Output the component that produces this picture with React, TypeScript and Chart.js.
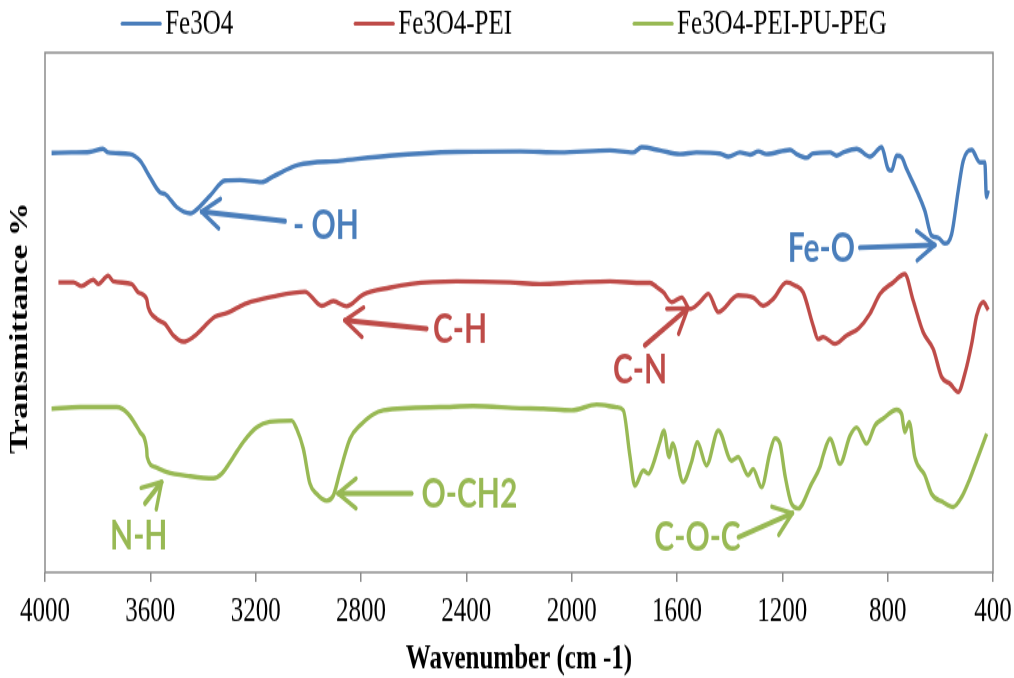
import React, { useEffect, useRef } from "react";
import { Chart, registerables } from "chart.js";

Chart.register(...registerables);

// The reference picture is vertically stretched; draw at a compressed height and stretch via CSS.
const STRETCH = 1.35;
const WIDTH = 1014;
const HEIGHT = 678;
const INNER_H = Math.round(HEIGHT / STRETCH);

const seriesLabels = ["Fe3O4", "Fe3O4-PEI", "Fe3O4-PEI-PU-PEG"];
const seriesColors = ["#4A7EBB", "#BE4B48", "#98B954"];
const yAxisTitle = "Transmittance %";
const xAxisTitle = "Wavenumber (cm -1)";

// Fe3O4
const fe3o4Wn = [3975, 3900, 3830, 3780, 3760, 3677, 3639, 3601, 3563, 3544, 3500, 3449, 3437, 3373, 3317, 3260, 3177, 3133, 3038, 2880, 2690, 2437, 2196, 2045, 1855, 1767, 1734, 1665, 1589, 1526, 1437, 1405, 1361, 1323, 1291, 1260, 1171, 1146, 1108, 1083, 1019, 994, 969, 918, 867, 823, 798, 785, 766, 747, 728, 690, 659, 633, 608, 583, 557, 532, 513, 481, 450, 431, 425, 418];
const fe3o4T = [80.7, 80.8, 80.9, 81.5, 80.8, 80.5, 79.2, 76.0, 73.1, 72.8, 70.3, 69.1, 69.3, 72.5, 75.4, 75.5, 75.1, 76.2, 78.4, 79.2, 80.2, 80.9, 81.0, 80.8, 81.2, 80.8, 81.8, 81.2, 80.5, 80.8, 80.6, 80.0, 80.8, 80.4, 81.0, 80.5, 81.3, 80.5, 79.8, 80.6, 80.8, 80.2, 80.8, 81.5, 80.0, 81.8, 77.6, 77.3, 80.2, 79.9, 77.6, 73.5, 69.6, 64.8, 64.4, 63.3, 65.1, 73.5, 79.2, 81.3, 78.9, 78.9, 72.2, 73.5];

// Fe3O4-PEI
const feo4PeiWn = [3949, 3892, 3861, 3817, 3798, 3760, 3741, 3671, 3646, 3614, 3608, 3576, 3544, 3513, 3475, 3437, 3354, 3310, 3234, 3133, 3013, 2949, 2905, 2855, 2791, 2690, 2614, 2437, 2234, 2120, 1981, 1855, 1728, 1703, 1677, 1652, 1620, 1582, 1551, 1513, 1481, 1443, 1368, 1311, 1273, 1235, 1184, 1152, 1121, 1083, 1064, 1045, 1000, 956, 911, 867, 829, 779, 735, 703, 665, 627, 595, 563, 532, 507, 481, 462, 437, 418];
const feo4PeiT = [55.8, 55.8, 55.1, 56.3, 55.5, 57.1, 56.0, 55.5, 53.9, 52.6, 51.0, 48.8, 47.8, 45.6, 44.4, 45.3, 49.2, 49.9, 51.8, 53.1, 54.0, 51.3, 52.2, 51.2, 53.5, 54.8, 55.5, 56.0, 55.8, 55.5, 55.8, 56.0, 55.7, 55.7, 54.9, 53.9, 52.0, 52.9, 50.7, 52.0, 53.6, 50.1, 53.3, 52.9, 51.3, 52.6, 55.8, 55.2, 53.9, 47.5, 44.9, 45.3, 44.0, 45.6, 46.9, 49.8, 53.6, 55.8, 57.4, 52.3, 46.2, 43.0, 37.6, 36.3, 34.7, 38.2, 44.0, 49.4, 52.0, 50.5];

// Fe3O4-PEI-PU-PEG
const pegWn = [3975, 3867, 3728, 3684, 3639, 3614, 3612, 3582, 3538, 3449, 3361, 3329, 3285, 3247, 3196, 3146, 3063, 3044, 3019, 2994, 2968, 2930, 2905, 2880, 2842, 2804, 2715, 2500, 2374, 2196, 2108, 2000, 1905, 1830, 1804, 1779, 1760, 1728, 1709, 1690, 1665, 1650, 1630, 1617, 1577, 1545, 1523, 1488, 1443, 1393, 1368, 1330, 1311, 1279, 1247, 1228, 1209, 1190, 1165, 1140, 1089, 1057, 1045, 1019, 981, 943, 918, 880, 848, 817, 766, 747, 735, 718, 697, 659, 633, 589, 551, 519, 488, 462, 424];
const pegT = [31.5, 31.8, 31.8, 30.5, 27.0, 23.8, 22.2, 20.3, 19.3, 18.5, 18.1, 19.0, 22.2, 25.1, 27.9, 29.0, 29.2, 27.6, 23.8, 17.1, 15.1, 13.8, 14.8, 19.3, 25.7, 28.3, 31.2, 31.8, 32.0, 31.6, 31.5, 31.2, 32.3, 31.8, 31.2, 22.5, 16.7, 19.6, 19.0, 20.9, 25.1, 27.3, 22.2, 24.8, 17.4, 21.2, 25.1, 20.6, 27.3, 21.5, 22.2, 18.7, 19.9, 16.4, 23.1, 25.8, 24.8, 18.7, 13.2, 12.3, 17.1, 20.3, 22.5, 25.7, 20.9, 26.3, 27.9, 24.8, 28.3, 29.6, 31.3, 30.5, 27.0, 28.9, 22.2, 18.7, 15.1, 13.5, 12.6, 14.5, 18.0, 21.5, 26.7];

const seriesWn = [fe3o4Wn, feo4PeiWn, pegWn];
const seriesT = [fe3o4T, feo4PeiT, pegT];

const xMin = 400;
const xMax = 4000;
const xStep = 400;

// Band annotations (text and arrow positions in wavenumber / transmittance units)
const annoText = ["- OH", "Fe-O", "C-H", "C-N", "N-H", "O-CH2", "C-O-C"];
const annoSeries = [0, 0, 1, 1, 2, 2, 2];
const annoTextWn = [3058, 1179, 2527, 1843, 3753, 2570, 1686];
const annoTextT = [66.8, 62.6, 47.0, 39.1, 7.1, 15.2, 6.9];
const annoTailWn = [3089, 905, 2551, 1722, 3620, 2608, 1366];
const annoTailT = [67.6, 62.5, 46.9, 43.7, 13.3, 15.2, 6.8];
const annoTipWn = [3405, 621, 2861, 1559, 3557, 2887, 1162];
const annoTipT = [69.4, 63.0, 48.5, 50.8, 17.4, 15.2, 11.4];

const SERIF = "'Liberation Serif', 'Times New Roman', serif";

const boxPlugin = {
  id: "plotBox",
  beforeDatasetsDraw(chart: any) {
    const { ctx, chartArea } = chart;
    ctx.save();
    ctx.strokeStyle = "#8C8C8C";
    ctx.lineWidth = 1.5;
    ctx.strokeRect(chartArea.left, chartArea.top, chartArea.right - chartArea.left, chartArea.bottom - chartArea.top);
    ctx.restore();
  },
};

const yTitlePlugin = {
  id: "yTitle",
  afterDraw(chart: any) {
    const { ctx, chartArea } = chart;
    ctx.save();
    ctx.translate(21, chartArea.top + (chartArea.bottom - chartArea.top) * 0.53);
    ctx.rotate(-Math.PI / 2);
    ctx.font = `bold 25px ${SERIF}`;
    ctx.fillStyle = "#000";
    ctx.textAlign = "center";
    ctx.textBaseline = "middle";
    ctx.fillText(yAxisTitle, 0, 0);
    ctx.restore();
  },
};

const legendPlugin = {
  id: "customLegend",
  afterDraw(chart: any) {
    const { ctx } = chart;
    ctx.save();
    ctx.font = `25px ${SERIF}`;
    ctx.textBaseline = "middle";
    ctx.textAlign = "left";
    const lineLen = 40;
    const gap = 4;
    const itemGap = 121;
    const y = 17.5;
    const widths = chart.data.datasets.map((d: any) => lineLen + gap + ctx.measureText(d.label).width);
    const total = widths.reduce((a: number, b: number) => a + b, 0) + itemGap * (widths.length - 1);
    let x = 504 - total / 2;
    chart.data.datasets.forEach((d: any, i: number) => {
      ctx.strokeStyle = d.borderColor;
      ctx.lineWidth = 3.2;
      ctx.lineCap = "round";
      ctx.beginPath();
      ctx.moveTo(x + 1, y);
      ctx.lineTo(x + lineLen - 1, y);
      ctx.stroke();
      ctx.fillStyle = "#000";
      ctx.fillText(d.label, x + lineLen + gap, y + 1);
      x += widths[i] + itemGap;
    });
    ctx.restore();
  },
};

const annotationPlugin = {
  id: "bandLabels",
  afterDatasetsDraw(chart: any) {
    const { ctx, scales } = chart;
    const xs = scales.x;
    const ys = scales.y;
    ctx.save();
    ctx.lineCap = "round";
    ctx.lineJoin = "round";
    for (let i = 0; i < annoText.length; i++) {
      const color = seriesColors[annoSeries[i]];
      const tx = xs.getPixelForValue(annoTailWn[i]);
      const ty = ys.getPixelForValue(annoTailT[i]);
      const hx = xs.getPixelForValue(annoTipWn[i]);
      const hy = ys.getPixelForValue(annoTipT[i]);
      ctx.strokeStyle = color;
      ctx.lineWidth = 4;
      ctx.beginPath();
      ctx.moveTo(tx, ty);
      ctx.lineTo(hx, hy);
      ctx.stroke();
      const ang = Math.atan2(hy - ty, hx - tx);
      const headLen = 21;
      const spread = 0.55;
      ctx.lineWidth = 3.4;
      ctx.beginPath();
      ctx.moveTo(hx - headLen * Math.cos(ang - spread), hy - headLen * Math.sin(ang - spread));
      ctx.lineTo(hx, hy);
      ctx.lineTo(hx - headLen * Math.cos(ang + spread), hy - headLen * Math.sin(ang + spread));
      ctx.stroke();

      ctx.fillStyle = color;
      ctx.font = "bold 30px Lato, 'Open Sans', sans-serif";
      ctx.textAlign = "left";
      ctx.textBaseline = "middle";
      ctx.fillText(annoText[i], xs.getPixelForValue(annoTextWn[i]), ys.getPixelForValue(annoTextT[i]) + 1);
    }
    ctx.restore();
  },
};

export default function App() {
  const canvasRef = useRef<HTMLCanvasElement | null>(null);

  useEffect(() => {
    document.body.style.margin = "0";
    const canvas = canvasRef.current;
    if (!canvas) return;
    const datasets = seriesLabels.map((label, s) => ({
      label,
      data: seriesWn[s].map((x, i) => ({ x, y: seriesT[s][i] })),
      borderColor: seriesColors[s],
      backgroundColor: seriesColors[s],
      borderWidth: 3.4,
      pointRadius: 0,
      fill: false,
      cubicInterpolationMode: "monotone" as const,
    }));
    const chart = new Chart(canvas, {
      type: "line",
      data: { datasets },
      plugins: [boxPlugin, annotationPlugin, legendPlugin, yTitlePlugin],
      options: {
        responsive: false,
        animation: false,
        devicePixelRatio: 1,
        layout: { padding: { top: 39, right: 21, bottom: 0, left: 45 } },
        plugins: {
          legend: { display: false },
          tooltip: { enabled: false },
        },
        scales: {
          x: {
            type: "linear",
            reverse: true,
            min: xMin,
            max: xMax,
            border: { display: false },
            afterFit(scale: any) {
              scale.paddingLeft = 0;
              scale.paddingRight = 0;
            },
            grid: {
              display: true,
              drawOnChartArea: false,
              drawTicks: true,
              tickLength: 7,
              color: "#8C8C8C",
              lineWidth: 1.5,
            },
            ticks: {
              stepSize: xStep,
              padding: 7.5,
              color: "#000",
              maxRotation: 0,
              autoSkip: false,
              callback: (v: any) => String(v),
              font: { family: SERIF, size: 25 },
            },
            title: {
              display: true,
              text: xAxisTitle,
              color: "#000",
              padding: { top: -2, bottom: -2 },
              font: { family: SERIF, size: 25, weight: "bold" },
            },
          },
          y: {
            type: "linear",
            display: false,
            min: 0,
            max: 100,
          },
        },
      },
    });
    return () => chart.destroy();
  }, []);

  return (
    <div style={{ width: WIDTH, height: HEIGHT, overflow: "hidden", position: "relative", background: "#fff" }}>
      <canvas
        ref={canvasRef}
        width={WIDTH}
        height={INNER_H}
        style={{
          display: "block",
          width: WIDTH + "px",
          height: INNER_H + "px",
          transform: `scaleY(${STRETCH})`,
          transformOrigin: "top left",
        }}
      />
    </div>
  );
}
